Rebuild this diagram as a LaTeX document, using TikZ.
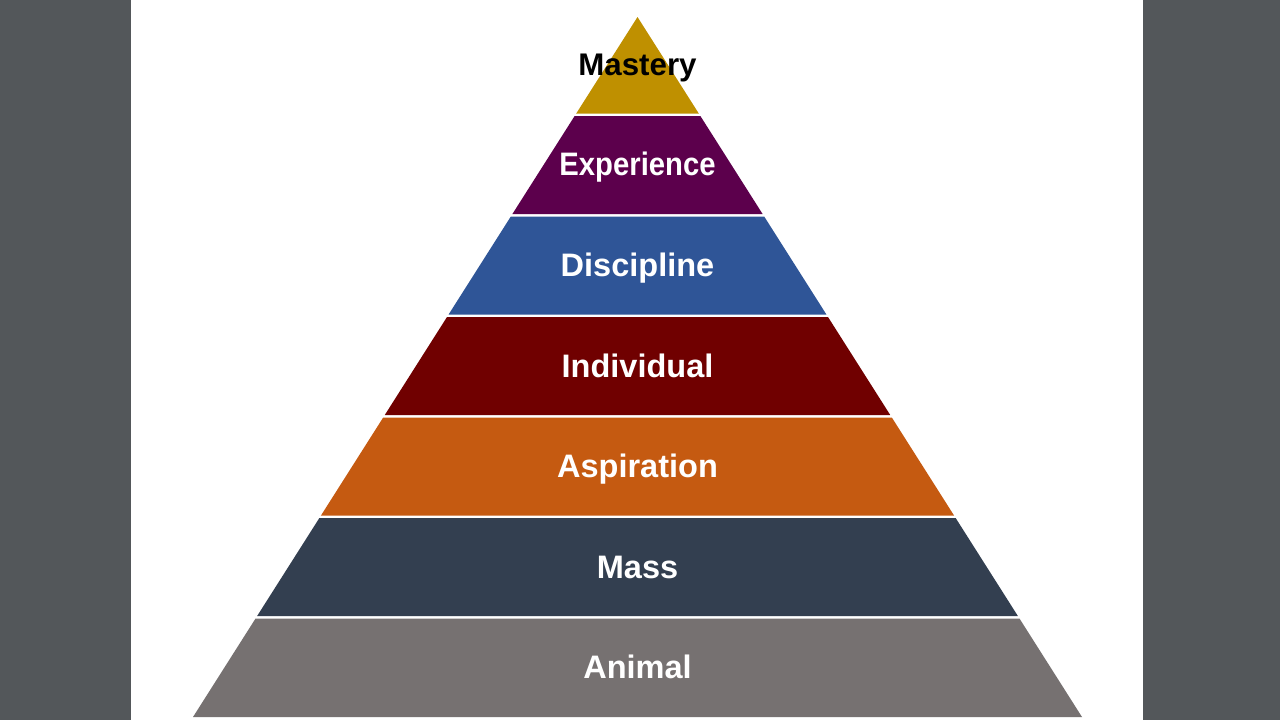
\documentclass[tikz,border=0pt]{standalone}
\usepackage{fontspec}
\setmainfont{Liberation Sans}
\usetikzlibrary{positioning}
\definecolor{desk}{RGB}{83,87,90}
\definecolor{gold}{RGB}{191,144,0}
\definecolor{plum}{RGB}{92,0,76}
\definecolor{steel}{RGB}{47,85,151}
\definecolor{wine}{RGB}{112,0,0}
\definecolor{rust}{RGB}{197,90,17}
\definecolor{slate}{RGB}{51,63,80}
\definecolor{ash}{RGB}{118,113,113}
\tikzset{
  tier/.style={font=\bfseries\fontsize{18.5}{21}\selectfont, text=white, inner sep=0pt, anchor=base},
  peak/.style={tier, font=\bfseries\fontsize{17.8}{21}\selectfont, text=black},
}

\begin{document}
\begin{tikzpicture}[x=0.02cm, y=-0.02cm]
  \useasboundingbox (0,0) rectangle (1280,720);
  \fill[desk] (0,0) rectangle (1280,720);
  \fill[white] (131,0) rectangle (1143,720);
  % bands, from the apex down
  \foreach \ya/\yb/\col in {17/113.5/gold, 116/214/plum, 216.5/314.5/steel, 417.5/515.5/rust, 317/415/wine, 518/616/slate, 618.5/717/ash}{
    \fill[\col] ({637.5-0.635*(\ya-17)},\ya) -- ({637.5+0.635*(\ya-17)},\ya)
      -- ({637.5+0.635*(\yb-17)},\yb) -- ({637.5-0.635*(\yb-17)},\yb) -- cycle;
  }
  \node[peak] (mastery) at (637.5,75) {Mastery};
  \node[tier] (experience) at (637.5,175) {\scalebox{0.9}[1]{Experience}};
  \node[tier] (discipline) at (637.5,276) {Discipline};
  \node[tier] (individual) at (637.5,377) {Individual};
  \node[tier] (aspiration) at (637.5,477) {Aspiration};
  \node[tier] (mass) at (637.5,578) {Mass};
  \node[tier] (animal) at (637.5,678) {Animal};
\end{tikzpicture}
\end{document}
